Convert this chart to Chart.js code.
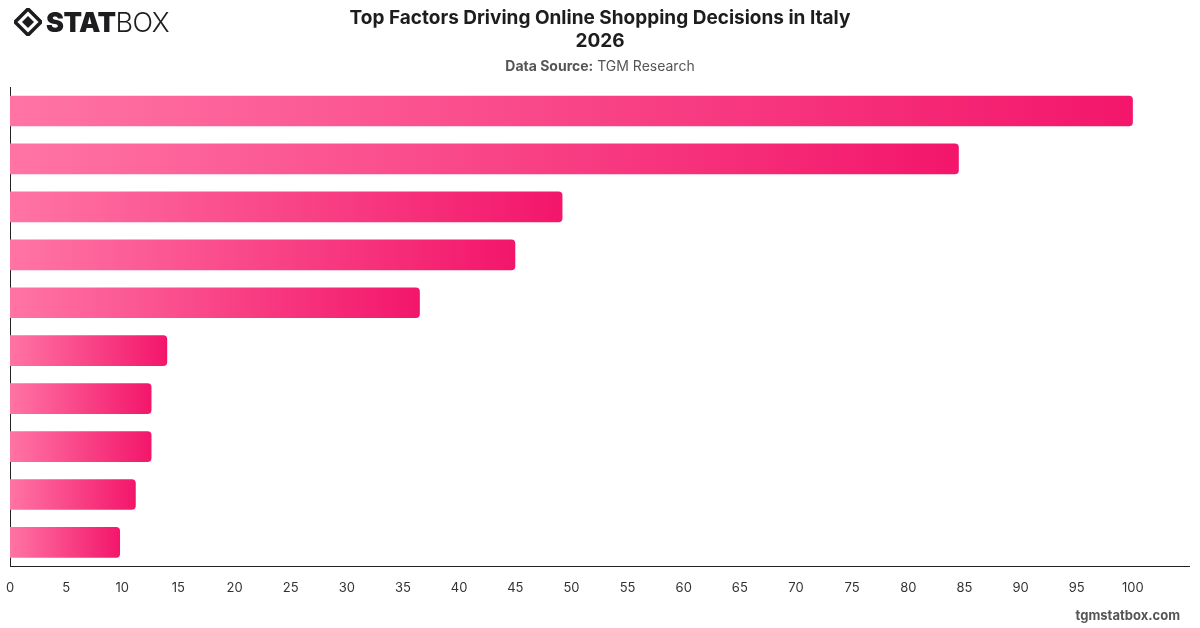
<!DOCTYPE html>
<html>
<head>
<meta charset="utf-8">
<script src="https://cdn.jsdelivr.net/npm/chart.js@4.4.1/dist/chart.umd.min.js"></script>
<style>
  html, body { margin: 0; padding: 0; background: #fff; }
  body { width: 1200px; height: 628px; position: relative; overflow: hidden; font-family: Inter, "Noto Sans", sans-serif; }
  #logo { position: absolute; left: 14px; top: 8px; height: 28px; display: flex; align-items: center; color: #1d1d1f; }
  #logo svg { margin-right: 4px; }
  #logo .stat { font-weight: 900; font-size: 27px; letter-spacing: -0.5px; }
  #logo .box { font-weight: 300; font-size: 27px; letter-spacing: -0.5px; }
  #title { position: absolute; left: 0; width: 1200px; top: 6px; text-align: center; font-weight: 700; font-size: 19px; line-height: 23px; color: #1d1d1f; }
  #source { position: absolute; left: 0; width: 1200px; top: 57px; text-align: center; font-size: 14px; color: #555; }
  #source b { font-weight: 700; }
  #footer { position: absolute; right: 20px; top: 607px; font-size: 13px; font-weight: 700; color: #555; }
  #wrap { position: absolute; left: 0; top: 0; width: 1200px; height: 628px; }
</style>
</head>
<body>
<div id="wrap"><canvas id="chart" width="1200" height="628"></canvas></div>
<div id="logo">
  <svg width="28" height="28" viewBox="0 0 28 28">
    <path d="M14 1 L27 14 L14 27 L1 14 Z" fill="none" stroke="#1d1d1f" stroke-width="3.5"/>
    <path d="M14 8 L20 14 L14 20 L8 14 Z" fill="#1d1d1f"/>
  </svg>
  <span class="stat">STAT</span><span class="box">BOX</span>
</div>
<div id="title">Top Factors Driving Online Shopping Decisions in Italy<br>2026</div>
<div id="source"><b>Data Source:</b> TGM Research</div>
<div id="footer">tgmstatbox.com</div>
<script>
const categories = [
  "Free delivery",
  "Low prices",
  "Fast delivery",
  "Easy returns",
  "Product reviews",
  "Secure payment",
  "Wide selection",
  "Discounts and promotions",
  "Trusted brand",
  "Customer service"
];
const values = [100, 84.5, 49.2, 45.0, 36.5, 14.0, 12.6, 12.6, 11.2, 9.8];
const xTicks = [0, 5, 10, 15, 20, 25, 30, 35, 40, 45, 50, 55, 60, 65, 70, 75, 80, 85, 90, 95, 100];

const colorStart = "#ff74a4";
const colorEnd = "#f3166b";

function barGradient(context) {
  const chart = context.chart;
  if (!chart.chartArea) return colorEnd;
  const xScale = chart.scales.x;
  const x0 = xScale.getPixelForValue(0);
  const x1 = xScale.getPixelForValue(context.raw);
  if (!isFinite(x0) || !isFinite(x1) || x1 - x0 < 1) return colorEnd;
  const g = chart.ctx.createLinearGradient(x0, 0, x1, 0);
  g.addColorStop(0, colorStart);
  g.addColorStop(1, colorEnd);
  return g;
}

new Chart(document.getElementById("chart").getContext("2d"), {
  type: "bar",
  data: {
    labels: categories,
    datasets: [{
      data: values,
      backgroundColor: barGradient,
      borderRadius: 4,
      borderSkipped: "start",
      barPercentage: 0.8,
      categoryPercentage: 0.8
    }]
  },
  options: {
    indexAxis: "y",
    responsive: false,
    animation: false,
    layout: { padding: { top: 87, left: 10, right: 11, bottom: 18 } },
    plugins: {
      legend: { display: false },
      tooltip: { enabled: false }
    },
    scales: {
      x: {
        min: 0,
        max: 105,
        afterBuildTicks: axis => { axis.ticks = xTicks.map(v => ({ value: v })); },
        afterFit: axis => { axis.paddingLeft = 0; axis.paddingRight = 0; },
        grid: { display: false, drawTicks: false },
        border: { display: true, color: "#222", width: 1 },
        ticks: {
          padding: 14,
          color: "#333",
          font: { family: "Inter, 'Noto Sans', sans-serif", size: 13 }
        }
      },
      y: {
        afterFit: axis => { axis.width = 0; },
        grid: { display: false, drawTicks: false },
        border: { display: true, color: "#222", width: 1 },
        ticks: { display: false }
      }
    }
  }
});
</script>
</body>
</html>
